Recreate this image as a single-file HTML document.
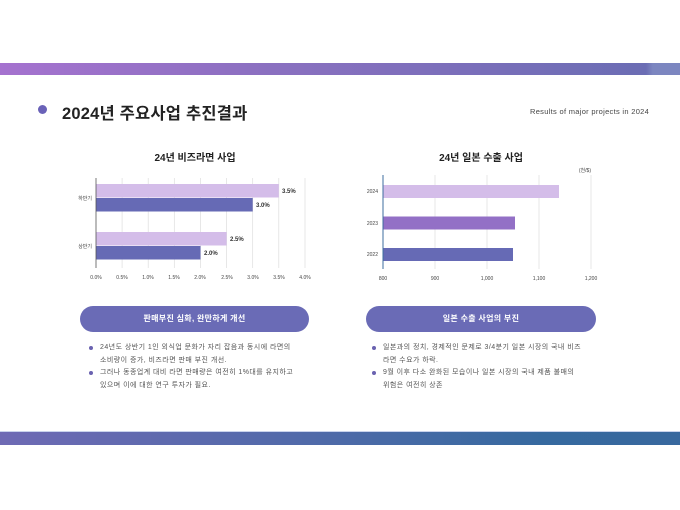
<!DOCTYPE html>
<html><head><meta charset="utf-8"><style>
*{margin:0;padding:0;box-sizing:border-box}
body{width:680px;height:510px;background:#fff;position:relative;overflow:hidden;font-family:"Liberation Sans","Noto Sans CJK KR",sans-serif;color:#333}
.a{position:absolute}
.pill{position:absolute;height:26px;border-radius:13px;background:#6a6bb6;color:#fff;font-size:8px;text-align:center;line-height:26px;font-weight:bold;letter-spacing:0.3px}
.bul{position:absolute;font-size:7px;line-height:12.5px;color:#555;width:222px;letter-spacing:0.45px}
.bul p{position:relative;padding-left:11px}
.bul p:before{content:"";position:absolute;left:0;top:4px;width:4px;height:4px;border-radius:50%;background:#6a62b0}
</style></head><body>
<div class="a" style="left:0;top:63px;width:680px;height:12px;background:linear-gradient(90deg,#a572cf,#8a70c0 40%,#6b6db4 95%,#7c86c0 96%)"></div>
<div class="a" style="left:0;top:431px;width:680px;height:1px;background:#c9d3ec"></div>
<div class="a" style="left:0;top:432px;width:680px;height:13px;background:linear-gradient(90deg,#6e6ab4,#4d6aa8 50%,#36699f 80%,#38689e)"></div>
<div class="a" style="left:38px;top:105px;width:9px;height:9px;border-radius:50%;background:#6a62b8"></div>
<div class="a" style="left:62px;top:100px;font-size:16.5px;font-weight:bold;color:#222;letter-spacing:0.2px">2024년 주요사업 추진결과</div>
<div class="a" style="left:530px;top:107px;font-size:7.5px;color:#444;letter-spacing:0.3px">Results of major projects in 2024</div>

<svg class="a" style="left:0;top:0" width="680" height="300" font-family="Liberation Sans,Noto Sans CJK KR,sans-serif">
<text x="195" y="161" text-anchor="middle" font-size="10" font-weight="bold" fill="#222">24년 비즈라면 사업</text>
<g stroke="#ddd" stroke-width="0.7">
<line x1="122.1" y1="178" x2="122.1" y2="268"/><line x1="148.2" y1="178" x2="148.2" y2="268"/><line x1="174.3" y1="178" x2="174.3" y2="268"/><line x1="200.5" y1="178" x2="200.5" y2="268"/><line x1="226.6" y1="178" x2="226.6" y2="268"/><line x1="252.7" y1="178" x2="252.7" y2="268"/><line x1="278.8" y1="178" x2="278.8" y2="268"/><line x1="305" y1="178" x2="305" y2="268"/>
</g>
<rect x="96" y="184" width="182.8" height="13.5" fill="#d4bde9"/>
<rect x="96" y="198" width="156.7" height="13.5" fill="#666ab5"/>
<rect x="96" y="232" width="130.6" height="13.5" fill="#d4bde9"/>
<rect x="96" y="246" width="104.5" height="13.5" fill="#666ab5"/>
<line x1="96" y1="178" x2="96" y2="268" stroke="#555" stroke-width="0.8"/>
<g font-size="6" font-weight="bold" fill="#333"><text x="282" y="193">3.5%</text><text x="256" y="207">3.0%</text><text x="230" y="241">2.5%</text><text x="204" y="255">2.0%</text></g>
<g font-size="5" fill="#444"><text x="92" y="200" text-anchor="end">하반기</text><text x="92" y="248" text-anchor="end">상반기</text></g>
<g font-size="5" fill="#444" text-anchor="middle"><text x="96" y="279">0.0%</text><text x="122" y="279">0.5%</text><text x="148" y="279">1.0%</text><text x="174" y="279">1.5%</text><text x="200" y="279">2.0%</text><text x="227" y="279">2.5%</text><text x="253" y="279">3.0%</text><text x="279" y="279">3.5%</text><text x="305" y="279">4.0%</text></g>

<text x="481" y="161" text-anchor="middle" font-size="10" font-weight="bold" fill="#222">24년 일본 수출 사업</text>
<text x="591" y="172" text-anchor="end" font-size="5" fill="#444">(천/$)</text>
<g stroke="#ddd" stroke-width="0.7">
<line x1="435" y1="175" x2="435" y2="269"/><line x1="487" y1="175" x2="487" y2="269"/><line x1="539" y1="175" x2="539" y2="269"/><line x1="591" y1="175" x2="591" y2="269"/>
</g>
<rect x="383" y="185" width="176" height="13" fill="#d4bde9"/>
<rect x="383" y="216.5" width="132" height="13" fill="#9370c6"/>
<rect x="383" y="248" width="130" height="13" fill="#666ab5"/>
<line x1="383" y1="175" x2="383" y2="269" stroke="#3e6d9f" stroke-width="1"/>
<g font-size="5" fill="#444" text-anchor="end"><text x="378" y="193">2024</text><text x="378" y="225">2023</text><text x="378" y="256">2022</text></g>
<g font-size="5" fill="#444" text-anchor="middle"><text x="383" y="280">800</text><text x="435" y="280">900</text><text x="487" y="280">1,000</text><text x="539" y="280">1,100</text><text x="591" y="280">1,200</text></g>
</svg>

<div class="pill" style="left:80px;top:306px;width:229px">판매부진 심화, 완만하게 개선</div>
<div class="pill" style="left:366px;top:306px;width:230px">일본 수출 사업의 부진</div>
<div class="bul" style="left:89px;top:342px"><p>24년도 상반기 1인 외식업 문화가 자리 잡음과 동시에 라면의<br>소비량이 증가, 비즈라면 판매 부진 개선.</p><p>그러나 동종업계 대비 라면 판매량은 여전히 1%대를 유지하고<br>있으며 이에 대한 연구 투자가 필요.</p></div>
<div class="bul" style="left:372px;top:342px"><p>일본과의 정치, 경제적인 문제로 3/4분기 일본 시장의 국내 비즈<br>라면 수요가 하락.</p><p>9월 이후 다소 완화된 모습이나 일본 시장의 국내 제품 불매의<br>위험은 여전히 상존</p></div>
</body></html>
